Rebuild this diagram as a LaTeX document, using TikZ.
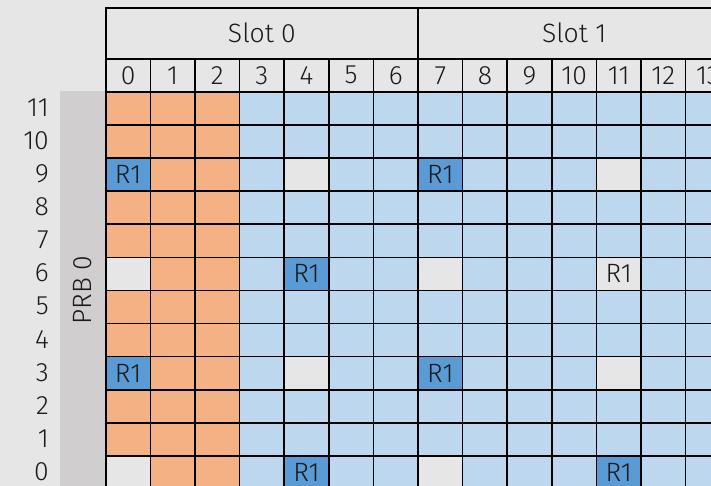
\documentclass[tikz,border=0pt]{standalone}
\usepackage{fontspec}
\setmainfont{Fira Sans Light}
\definecolor{bg}{HTML}{E7E6E6}
\definecolor{stripc}{HTML}{D0CECE}
\definecolor{orangec}{HTML}{F4B183}
\definecolor{lblue}{HTML}{BDD7EE}
\definecolor{dblue}{HTML}{5B9BD5}
\definecolor{txt}{HTML}{1A1A1A}
\expandafter\def\csname cs-0-9\endcsname{rone}
\expandafter\def\csname cs-0-3\endcsname{rone}
\expandafter\def\csname cs-0-6\endcsname{empty}
\expandafter\def\csname cs-0-0\endcsname{empty}
\expandafter\def\csname cs-4-6\endcsname{rone}
\expandafter\def\csname cs-4-0\endcsname{rone}
\expandafter\def\csname cs-4-9\endcsname{empty}
\expandafter\def\csname cs-4-3\endcsname{empty}
\expandafter\def\csname cs-7-9\endcsname{rone}
\expandafter\def\csname cs-7-3\endcsname{rone}
\expandafter\def\csname cs-7-6\endcsname{empty}
\expandafter\def\csname cs-7-0\endcsname{empty}
\expandafter\def\csname cs-11-9\endcsname{empty}
\expandafter\def\csname cs-11-3\endcsname{empty}
\expandafter\def\csname cs-11-6\endcsname{emptyr}
\expandafter\def\csname cs-11-0\endcsname{rone}
\begin{document}
\begin{tikzpicture}[x=1pt,y=-1pt,
  txtfont/.style={font=\fontsize{26.5}{26.5}\selectfont, text=txt},
  cell/.style={draw=black, line width=1.6pt, minimum width=44.6pt, minimum height=33.1pt,
    inner sep=0pt, anchor=north west, txtfont},
  orangecell/.style={fill=orangec},
  bluecell/.style={fill=lblue},
  rone/.style={fill=dblue},
  empty/.style={fill=bg},
  emptyr/.style={fill=bg},
  hdr/.style={draw=black, line width=1.6pt, fill=bg, inner sep=0pt, anchor=north west, txtfont},
  rowlab/.style={anchor=east, inner sep=0pt, txtfont}]
\useasboundingbox (0,0) rectangle (711,486);
\fill[bg] (0,0) rectangle (711,486);
\begin{scope}
\clip (0,0) rectangle (711,486);
\node[fill=stripc, minimum width=45pt, minimum height=400pt, inner sep=0pt, anchor=north west] (strip) at (60,91) {};
\node[txtfont, rotate=90] (prb) at (83,290) {PRB 0};
\node[hdr, minimum width=312.2pt, minimum height=51pt] (slot0) at (105,7) {Slot 0};
\node[hdr, minimum width=312.2pt, minimum height=51pt] (slot1) at (417.2,7) {Slot 1};
\foreach \c in {0,...,13}{
  \node[hdr, minimum width=44.6pt, minimum height=33pt] (h-\c) at (105+44.6*\c,58) {\c};
  \foreach \r in {0,...,11}{
    \ifnum\c<3 \def\sty{orangecell}\else\def\sty{bluecell}\fi
    \def\ctext{}
    \ifcsname cs-\c-\r\endcsname
      \edef\sty{\csname cs-\c-\r\endcsname}
      \def\tmpa{empty}
      \ifx\sty\tmpa\else\def\ctext{R1}\fi
    \fi
    \node[cell, \sty] (c-\c-\r) at (105+44.6*\c, 91+33.1*11-33.1*\r) {\ctext};
  }
}
\end{scope}
\foreach \r in {0,...,11}{
  \node[rowlab] (r-\r) at (49, 107.5+33.1*11-33.1*\r) {\r};
}
\end{tikzpicture}
\end{document}
